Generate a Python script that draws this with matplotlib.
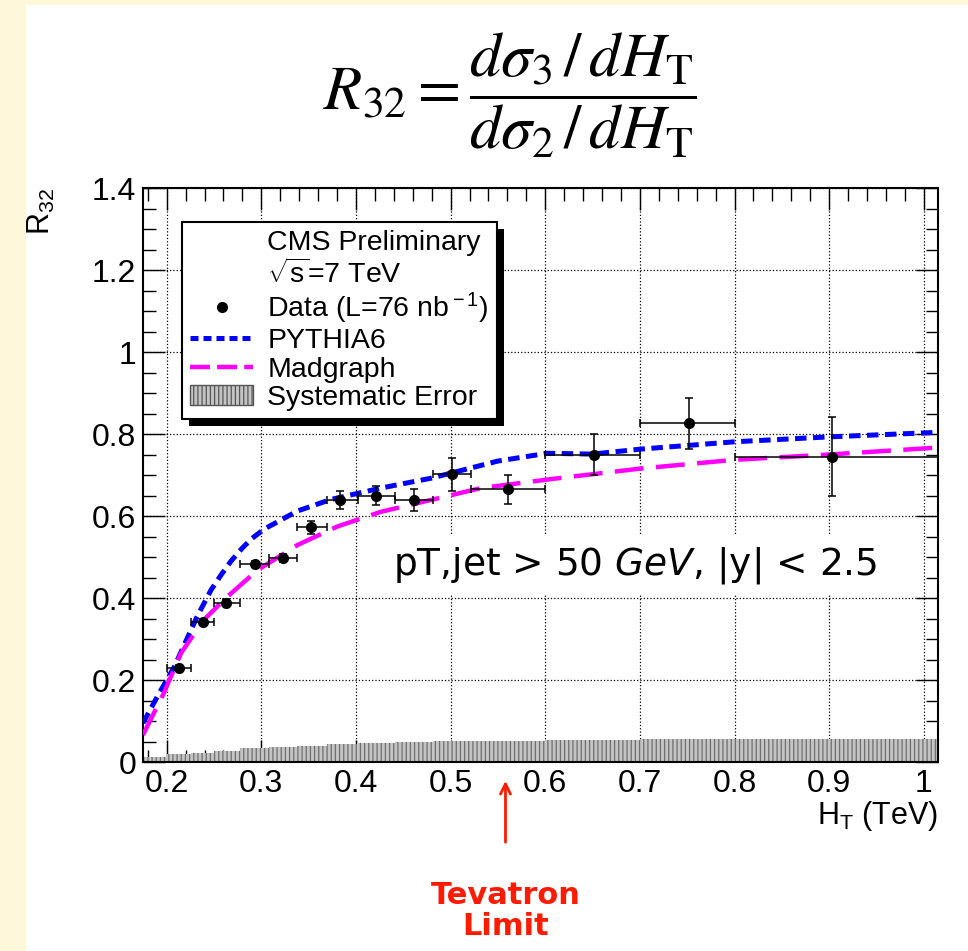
import matplotlib
matplotlib.use("Agg")
import matplotlib.pyplot as plt
import numpy as np
from matplotlib.lines import Line2D
from matplotlib.patches import Patch, Rectangle
from matplotlib.ticker import MultipleLocator

# measured R32 points (bin edges in TeV)
bin_lo = [0.200, 0.226, 0.250, 0.278, 0.308, 0.338, 0.369, 0.402, 0.441, 0.481, 0.522, 0.600, 0.700, 0.800]
bin_hi = [0.226, 0.250, 0.278, 0.308, 0.338, 0.369, 0.402, 0.441, 0.481, 0.522, 0.600, 0.700, 0.800, 1.015]
ht = [0.213, 0.238, 0.263, 0.293, 0.323, 0.353, 0.383, 0.421, 0.461, 0.501, 0.561, 0.651, 0.752, 0.903]
r32 = [0.229, 0.341, 0.389, 0.483, 0.498, 0.572, 0.639, 0.649, 0.639, 0.702, 0.665, 0.750, 0.826, 0.745]
r32_err = [0.008, 0.008, 0.008, 0.008, 0.010, 0.015, 0.022, 0.023, 0.027, 0.040, 0.036, 0.050, 0.062, 0.097]

# MC predictions
pythia_x = [0.175, 0.19, 0.208, 0.232, 0.247, 0.258, 0.268, 0.28, 0.29, 0.303, 0.338, 0.373, 0.426,
            0.479, 0.55, 0.602, 0.65, 0.7, 0.8, 0.9, 1.015]
pythia_y = [0.095, 0.159, 0.232, 0.354, 0.420, 0.458, 0.490, 0.522, 0.545, 0.568, 0.612, 0.640, 0.668,
            0.692, 0.734, 0.753, 0.751, 0.763, 0.781, 0.793, 0.804]
madgraph_x = [0.175, 0.197, 0.215, 0.239, 0.264, 0.296, 0.338, 0.38, 0.426, 0.479, 0.532, 0.606, 0.702, 0.8, 0.9, 1.015]
madgraph_y = [0.066, 0.168, 0.265, 0.346, 0.403, 0.468, 0.529, 0.574, 0.61, 0.639, 0.668, 0.69, 0.716, 0.737, 0.75, 0.767]

# systematic error band (step heights)
sys_edges = [0.175, 0.2, 0.226, 0.25, 0.278, 0.308, 0.338, 0.369, 0.402, 0.441, 0.481, 0.522, 0.6, 0.7, 0.8, 1.015]
sys_height = [0.013, 0.020, 0.022, 0.028, 0.033, 0.036, 0.040, 0.044, 0.046, 0.049, 0.051, 0.052, 0.054, 0.055, 0.055]

tevatron_limit = 0.558

plt.rcParams["font.family"] = ["Liberation Sans", "DejaVu Sans"]
plt.rcParams["mathtext.fontset"] = "custom"
plt.rcParams["mathtext.rm"] = "Liberation Sans"
plt.rcParams["mathtext.it"] = "Liberation Sans:italic"
plt.rcParams["hatch.linewidth"] = 0.9

fig = plt.figure(figsize=(9.68, 9.51), dpi=100, facecolor="#fff7da")
fig.add_artist(Rectangle((26 / 968, 0), 1, (951 - 5) / 951, transform=fig.transFigure,
                         facecolor="white", edgecolor="none", zorder=-10))

ax = fig.add_axes([143 / 968, (951 - 762) / 951, 795 / 968, 574 / 951])

# systematic band
ax.fill_between(sys_edges, 0, sys_height + [sys_height[-1]], step="post",
                facecolor="#c4c4c4", edgecolor="#6e6e6e", hatch="||||", linewidth=0, zorder=2)

ax.plot(pythia_x, pythia_y, color="#0000ff", lw=3.6, dashes=(2.3, 1.3), zorder=3)
ax.plot(madgraph_x, madgraph_y, color="#ff00ff", lw=3.2, dashes=(6.5, 2.8), zorder=3)

ht_a = np.array(ht)
xerr = [ht_a - np.array(bin_lo), np.array(bin_hi) - ht_a]
ax.errorbar(ht, r32, yerr=r32_err, xerr=xerr, fmt="o", color="black", ms=7,
            elinewidth=1.1, capsize=3, capthick=1.1, zorder=4)

ax.set_xlim(0.175, 1.015)
ax.set_ylim(0, 1.4)
ax.xaxis.set_minor_locator(MultipleLocator(0.02))
ax.yaxis.set_minor_locator(MultipleLocator(0.05))
ax.set_xticks(np.arange(0.2, 1.01, 0.1))
ax.set_xticklabels(["0.2", "0.3", "0.4", "0.5", "0.6", "0.7", "0.8", "0.9", "1"])
ax.set_yticks(np.arange(0, 1.41, 0.2))
ax.set_yticklabels(["0", "0.2", "0.4", "0.6", "0.8", "1", "1.2", "1.4"])
ax.tick_params(which="both", direction="in", top=True, right=True, labelsize=23, width=1)
ax.tick_params(which="major", length=16, pad=5)
ax.tick_params(which="minor", length=9)
ax.grid(True, which="major", linestyle=":", color="black", linewidth=0.9)
ax.set_axisbelow(True)
for sp in ax.spines.values():
    sp.set_linewidth(1.5)

ax.set_ylabel(r"R$_{32}$", fontsize=22, loc="top")
ax.yaxis.set_label_coords(-0.108, 1.0)
ax.set_xlabel(r"H$_{\rm T}$ (TeV)", fontsize=22, loc="right")
ax.xaxis.set_label_coords(1.0, -0.065)

# legend
handles = [
    Line2D([], [], linestyle="none"),
    Line2D([], [], linestyle="none"),
    Line2D([], [], marker="o", color="black", linestyle="none", ms=7),
    Line2D([], [], color="#0000ff", lw=3.6, dashes=(1.6, 1.0)),
    Line2D([], [], color="#ff00ff", lw=3.2, dashes=(4.5, 1.6)),
    Patch(facecolor="#c4c4c4", edgecolor="#555555", hatch="||||", linewidth=1),
]
labels = ["CMS Preliminary", r"$\sqrt{\rm s}$=7 TeV", r"Data (L=76 nb$^{\rm -1}$)",
          "PYTHIA6", "Madgraph", "Systematic Error"]
leg = ax.legend(handles, labels, loc="upper left", bbox_to_anchor=(0.049, 0.941),
                borderaxespad=0, fontsize=20.5, handlelength=2.2, handletextpad=0.5,
                labelspacing=0.08, borderpad=0.3, fancybox=False, framealpha=1,
                edgecolor="black")
leg.get_frame().set_linewidth(1.5)
leg.set_zorder(6)
fig.canvas.draw()
bb = leg.get_window_extent()
ax.add_artist(Rectangle((bb.x0 + 7, bb.y0 - 7), bb.width, bb.height, transform=None,
                        facecolor="black", edgecolor="none", zorder=5.5, clip_on=False))

ax.text(0.619, 0.343, r"pT,jet > 50 $\mathit{GeV}$, |y| < 2.5", transform=ax.transAxes,
        fontsize=27, ha="center", va="center", family="DejaVu Sans", math_fontfamily="dejavusans",
        bbox=dict(facecolor="white", edgecolor="none", pad=6), zorder=5)

# formula header
fig.text(0.527, 0.9, r"$R_{32} = \dfrac{d\sigma_3\,/\,dH_\mathrm{T}}{d\sigma_2\,/\,dH_\mathrm{T}}$",
         fontsize=45, ha="center", va="center", math_fontfamily="stix")

# Tevatron limit arrow
ax.annotate("Tevatron\nLimit", xy=(tevatron_limit, -0.033), xycoords=("data", "axes fraction"),
            xytext=(tevatron_limit, -0.26), textcoords=("data", "axes fraction"),
            ha="center", va="center", color="#ff1a00", fontsize=22, fontweight="bold",
            family="DejaVu Sans", linespacing=1.1, annotation_clip=False,
            arrowprops=dict(arrowstyle="->", color="#ff1a00", lw=2, shrinkA=26, shrinkB=0,
                            mutation_scale=18))

fig.savefig("out.png", dpi=100, facecolor=fig.get_facecolor())
